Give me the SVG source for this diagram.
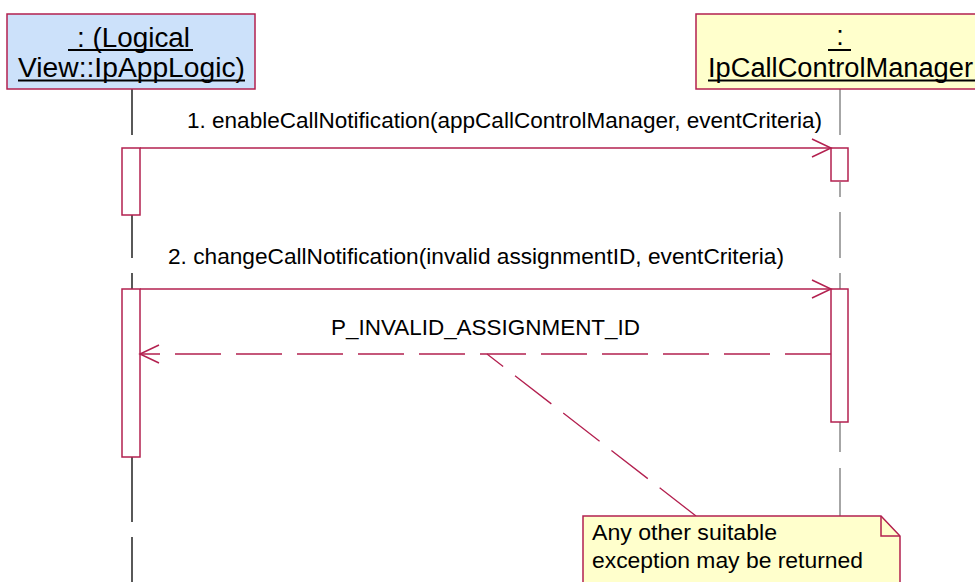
<svg xmlns="http://www.w3.org/2000/svg" width="975" height="582" viewBox="0 0 975 582">
<style>
text{font-family:"Liberation Sans",Arial,sans-serif;fill:#000}
.hdr{font-size:27px}
.msg{font-size:22px}
.note{font-size:22px}
.box{stroke:#b3204f;stroke-width:1.5}
.act{fill:#fff;stroke:#b3204f;stroke-width:1.5}
.ul{stroke:#000;stroke-width:2}
.ll{stroke-width:1.3;fill:none}
.m{stroke:#b3204f;stroke-width:1.3;fill:none}
.dash{stroke-dasharray:46 15}
</style>
<defs>
<marker id="open" viewBox="0 0 22 20" refX="20" refY="10" markerWidth="22" markerHeight="20" markerUnits="userSpaceOnUse" orient="auto">
<path d="M1,1 L20,10 L1,19" fill="none" stroke="#b3204f" stroke-width="1.5"/>
</marker>
</defs>
<rect width="975" height="582" fill="#fff"/>
<g id="lifelines">
<path class="ll" stroke="#000" d="M132,89V135M132,215V258M132,273V289M132,457V522M132,537V582"/>
<path class="ll" stroke="#777" d="M840,89V135M840,182V197M840,212V258M840,273V289M840,422V452M840,468V516"/>
</g>
<g id="node-applogic">
<rect class="box" x="7" y="14" width="248" height="75" fill="#cce1fa"/>
<text class="hdr" x="77" y="47" textLength="113" lengthAdjust="spacingAndGlyphs">: (Logical</text>
<line class="ul" x1="68" y1="50" x2="193" y2="50"/>
<text class="hdr" x="18" y="77" textLength="227" lengthAdjust="spacingAndGlyphs">View::IpAppLogic)</text>
<line class="ul" x1="18" y1="80.5" x2="245" y2="80.5"/>
</g>
<g id="node-callcontrolmanager">
<rect class="box" x="696" y="14" width="300" height="75" fill="#ffffcc"/>
<text class="hdr" x="840" y="45" text-anchor="middle">:</text>
<line class="ul" x1="828" y1="50" x2="851" y2="50"/>
<text class="hdr" x="708" y="77" textLength="265" lengthAdjust="spacingAndGlyphs">IpCallControlManager</text>
<line class="ul" x1="708" y1="80.5" x2="975" y2="80.5"/>
</g>
<g id="activations">
<rect class="act" x="122" y="148" width="18" height="67"/>
<rect class="act" x="831" y="148" width="17" height="33"/>
<rect class="act" x="122" y="289" width="18" height="168"/>
<rect class="act" x="831" y="289" width="17" height="133"/>
</g>
<g id="connectors">
<line class="m" x1="140" y1="148" x2="831" y2="148" marker-end="url(#open)"/>
<text class="msg" x="187" y="128" textLength="635" lengthAdjust="spacingAndGlyphs">1. enableCallNotification(appCallControlManager, eventCriteria)</text>
<line class="m" x1="140" y1="289" x2="831" y2="289" marker-end="url(#open)"/>
<text class="msg" x="168" y="264" textLength="616" lengthAdjust="spacingAndGlyphs">2. changeCallNotification(invalid assignmentID, eventCriteria)</text>
<line class="m dash" x1="831" y1="354" x2="140" y2="354" marker-end="url(#open)"/>
<text class="msg" x="331" y="335" textLength="309" lengthAdjust="spacingAndGlyphs">P_INVALID_ASSIGNMENT_ID</text>
<line class="m dash" x1="696" y1="516" x2="487" y2="354"/>
</g>
<g id="node-note">
<path class="box" d="M583,516H881L900,536V600H583Z" fill="#ffffcc"/>
<path class="box" d="M881,516V536H900" fill="none"/>
<text class="note" x="592" y="540" textLength="185" lengthAdjust="spacingAndGlyphs">Any other suitable</text>
<text class="note" x="592" y="568" textLength="271" lengthAdjust="spacingAndGlyphs">exception may be returned</text>
</g>
</svg>
